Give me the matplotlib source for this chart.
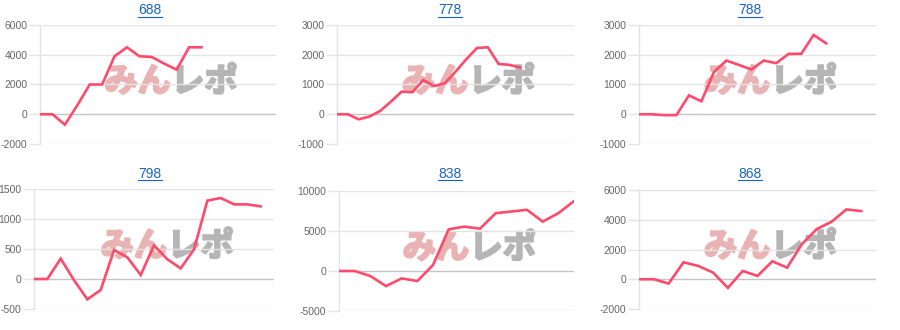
import numpy as np
import matplotlib
matplotlib.use("Agg")
import matplotlib.pyplot as plt
import matplotlib.patheffects as pe
from matplotlib.lines import Line2D

plt.rcParams["font.family"] = ["Liberation Sans", "DejaVu Sans"]

# ── data (cumulative difference per machine) ─────────────────────────
titles = ["688", "778", "788", "798", "838", "868"]

v688 = [0, 0, -700, 600, 2000, 2000, 3900, 4500, 3900, 3850, 3400, 3000, 4500, 4500]
v778 = [0, 0, -170, -80, 110, 425, 760, 740, 1150, 950, 1040, 1430, 1850, 2230,
        2250, 1690, 1660, 1570]
v788 = [0, 0, -30, -30, 635, 435, 1415, 1805, 1660, 1505, 1805, 1717, 2030, 2030,
        2665, 2385]
v798 = [0, 0, 339, -20, -339, -183, 483, 361, 67, 561, 328, 178, 494, 1306, 1350,
        1244, 1244, 1211]
v838 = [0, 0, -630, -1890, -925, -1260, 756, 5210, 5546, 5294, 7227, 7437, 7647,
        6176, 7227, 8740]
v868 = [0, 0, -290, 1140, 894, 447, -581, 559, 223, 1207, 782, 2370, 3374, 3866,
        4693, 4581]

series = [v688, v778, v788, v798, v838, v868]
n_slots = [20, 23, 20, 19, 16, 17]
y_ranges = [(-2000, 6000, 2000), (-1000, 3000, 1000), (-1000, 3000, 1000),
            (-500, 1500, 500), (-5000, 10000, 5000), (-2000, 6000, 2000)]

# axes boxes in pixels: left, right, top, bottom (900x330 canvas)
boxes = [(40, 276, 25, 144), (337, 574, 25, 144), (639, 876, 25, 144),
         (34, 274, 189, 309), (339, 574, 191, 311), (639, 876, 190, 309)]
title_y = [10, 10, 10, 174, 174, 174]

W, H = 900, 330
LINE = "#ff4a6b"
fig = plt.figure(figsize=(9, 3.3), dpi=100)
fig.patch.set_facecolor("white")

title_texts = []
for i, vals in enumerate(series):
    l, r, t, b = boxes[i]
    ax = fig.add_axes([l / W, 1 - b / H, (r - l) / W, (b - t) / H])
    lo, hi, step = y_ranges[i]
    ticks = np.arange(lo, hi + step, step)

    # watermark
    for txt, ha, col in [("みん", "right", "#e9b3b3"), ("レポ", "left", "#b5b5b5")]:
        ax.text(0.555, 0.52, txt, transform=ax.transAxes, ha=ha, va="center",
                family=["Noto Sans CJK JP"], fontsize=24, fontweight="bold",
                color=col, zorder=0,
                path_effects=[pe.withStroke(linewidth=1.6, foreground=col)])

    for tv in ticks:
        c = "#c4c4c4" if tv == 0 else "#e4e4e4"
        ax.axhline(tv, color=c, linewidth=1.0, zorder=1)

    ax.plot(np.arange(len(vals)), vals, color=LINE, linewidth=1.9,
            solid_joinstyle="miter", zorder=3)

    ax.set_xlim(0, n_slots[i] - 1)
    ax.set_ylim(lo, hi)
    ax.set_yticks(ticks)
    ax.set_yticklabels([str(int(tv)) for tv in ticks])
    ax.set_xticks([])
    ax.tick_params(axis="y", length=8, width=1.0, color="#e4e4e4",
                   labelcolor="#666666", labelsize=7.5, pad=1)
    for s in ["top", "right", "bottom"]:
        ax.spines[s].set_visible(False)
    ax.spines["left"].set_color("#e4e4e4")
    ax.spines["left"].set_linewidth(1.0)

    cx = (i % 3) * 300 + 150
    tt = fig.text(cx / W, 1 - title_y[i] / H, titles[i], ha="center", va="center",
                  fontsize=10, color="#1565c0")
    title_texts.append(tt)

# underline the link-style titles
fig.canvas.draw()
renderer = fig.canvas.get_renderer()
for tt in title_texts:
    bb = tt.get_window_extent(renderer)
    y = bb.y0 + 0.5
    fig.add_artist(Line2D([bb.x0 / W, bb.x1 / W], [y / H, y / H],
                          transform=fig.transFigure, color="#1565c0",
                          linewidth=0.8))

fig.savefig("out.png", dpi=100, facecolor="white")
